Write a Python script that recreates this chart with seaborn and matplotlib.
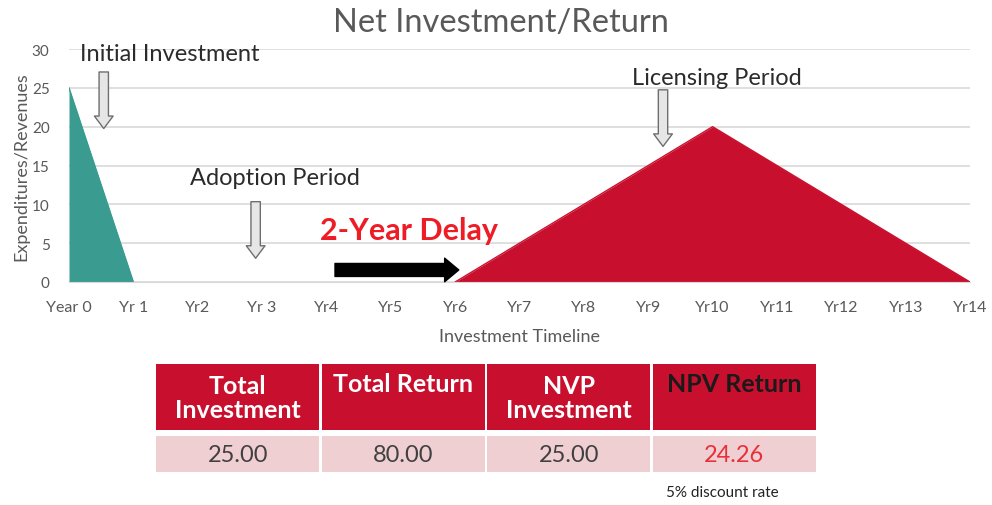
import numpy as np
import pandas as pd
import matplotlib
matplotlib.use("Agg")
import matplotlib.pyplot as plt
import seaborn as sns
from matplotlib.patches import Rectangle

# data
years = ["Year 0", "Yr 1", "Yr2", "Yr 3", "Yr4", "Yr5", "Yr6", "Yr7",
         "Yr8", "Yr9", "Yr10", "Yr11", "Yr12", "Yr13", "Yr14"]
investment = [25, 0, None, None, None, None, None, None,
              None, None, None, None, None, None, None]
returns = [None, None, None, None, None, None, 0, 5,
           10, 15, 20, 15, 10, 5, 0]

table_headers = ["Total\nInvestment", "Total Return", "NVP\nInvestment", "NPV Return"]
table_values = ["25.00", "80.00", "25.00", "24.26"]

df = pd.DataFrame({"t": np.arange(len(years)),
                   "investment": pd.to_numeric(pd.Series(investment), errors="coerce"),
                   "returns": pd.to_numeric(pd.Series(returns), errors="coerce")})

sns.set_style("white")
plt.rcParams["font.family"] = ["Lato", "DejaVu Sans"]

TEAL = "#3a9b90"
RED = "#c8102e"
GRAY = "#595959"
DARK = "#2b2b2b"

fig = plt.figure(figsize=(9.92, 5.06), dpi=100)
ax = fig.add_axes([69 / 992, 223 / 506, 901 / 992, 233 / 506])

for col, color in [("investment", TEAL), ("returns", RED)]:
    sub = df.dropna(subset=[col])
    sns.lineplot(data=sub, x="t", y=col, ax=ax, color=color, linewidth=1)
    ax.fill_between(sub["t"], 0, sub[col], color=color, linewidth=0)

ax.set_xlim(0, 14)
ax.set_ylim(0, 30)
ax.set_yticks(range(0, 31, 5))
ax.set_xticks(df["t"])
ax.set_xticklabels(years)
ax.yaxis.grid(True, color="#d9d9d9", linewidth=1.2)
ax.set_axisbelow(True)
for s in ["top", "right", "left"]:
    ax.spines[s].set_visible(False)
ax.spines["bottom"].set_color("#d9d9d9")
ax.tick_params(axis="x", colors="#d9d9d9", length=4, labelcolor=GRAY,
               labelsize=11.5, pad=9)
ax.tick_params(axis="y", length=0, labelcolor=GRAY, labelsize=11, pad=14)
ax.set_xlabel("Investment Timeline", color=GRAY, fontsize=13, labelpad=10)
ax.set_ylabel("Expenditures/Revenues", color=GRAY, fontsize=13, labelpad=2)

fig.text(0.505, 0.955, "Net Investment/Return", ha="center", va="center",
         fontsize=23.5, color=GRAY)

# annotations
ax.text(0.17, 29.4, "Initial Investment", fontsize=17, color=DARK, va="center")
ax.text(1.88, 13.4, "Adoption Period", fontsize=17, color=DARK, va="center")
ax.text(8.75, 26.3, "Licensing Period", fontsize=17, color=DARK, va="center")
ax.text(3.9, 6.7, "2-Year Delay", fontsize=22, color="#ee1c25",
        fontweight="bold", va="center")

hollow = dict(arrowstyle="simple,head_length=0.6,head_width=0.9,tail_width=0.45",
              mutation_scale=15, fc="#e6e6e6", ec="#6e6e6e", lw=1)
for x0, y0, y1 in [(0.54, 27.4, 19.4), (2.9, 10.7, 2.7), (9.23, 25.1, 17.1)]:
    ax.annotate("", xy=(x0, y1), xytext=(x0, y0), arrowprops=hollow,
                annotation_clip=False)

ax.annotate("", xy=(6.1, 1.55), xytext=(4.09, 1.55),
            arrowprops=dict(arrowstyle="simple,head_length=0.6,head_width=1.0,tail_width=0.55",
                            mutation_scale=17, fc="black", ec="black"))

# table
tax = fig.add_axes([155 / 992, 33 / 506, 662 / 992, 108 / 506])
tax.set_xlim(0, 4)
tax.set_ylim(0, 1)
tax.axis("off")
gap = 0.009
for i, (h, v) in enumerate(zip(table_headers, table_values)):
    tax.add_patch(Rectangle((i + gap, 0.389), 1 - 2 * gap, 0.611,
                            color=RED, lw=0))
    tax.add_patch(Rectangle((i + gap, 0.0), 1 - 2 * gap, 0.333,
                            color="#f0cfd3", lw=0))
    hcolor = "#1a1a1a" if i == 3 else "white"
    hy = 0.82 if "\n" not in h else 0.69
    tax.text(i + 0.5, hy, h, ha="center", va="center", fontsize=18,
             fontweight="bold", color=hcolor, linespacing=1.1)
    vcolor = "#e8303a" if i == 3 else "#404040"
    tax.text(i + 0.5, 0.165, v, ha="center", va="center", fontsize=17,
             color=vcolor)

fig.text(722 / 992, 13 / 506, "5% discount rate", ha="center", va="center",
         fontsize=11, color="#222222")

fig.savefig("out.png", dpi=100)
